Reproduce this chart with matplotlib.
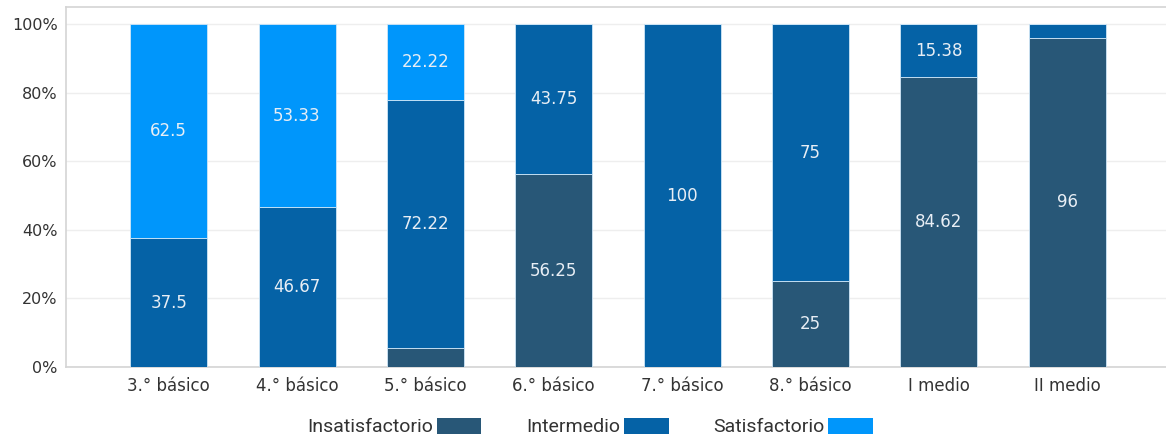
import matplotlib
matplotlib.use("Agg")
import matplotlib.pyplot as plt
import numpy as np

categories = ["3.° básico", "4.° básico", "5.° básico", "6.° básico",
              "7.° básico", "8.° básico", "I medio", "II medio"]
insatisfactorio = [0, 0, 5.56, 56.25, 0, 25, 84.62, 96]
intermedio = [37.5, 46.67, 72.22, 43.75, 100, 75, 15.38, 4]
satisfactorio = [62.5, 53.33, 22.22, 0, 0, 0, 0, 0]
series_names = ["Insatisfactorio", "Intermedio", "Satisfactorio"]
colors = ["#285777", "#0562a6", "#0096fb"]

fig = plt.figure(figsize=(11.66, 4.41), dpi=100)
ax = fig.add_axes([66/1166, 1-367/441, 1-66/1166, (367-7)/441])

x = np.arange(len(categories))
bottom = np.zeros(len(categories))
for name, vals, c in zip(series_names, [insatisfactorio, intermedio, satisfactorio], colors):
    vals = np.array(vals, dtype=float)
    ax.bar(x, vals, 0.6, bottom=bottom, color=c, edgecolor="#cfe6f7",
           linewidth=0.6, label=name, zorder=3)
    for xi, v, b in zip(x, vals, bottom):
        if v >= 10:
            ax.text(xi, b + v/2, f"{v:g}", ha="center", va="center",
                    color="#e8eef5", fontsize=12, zorder=4)
    bottom += vals

ax.set_xlim(-0.8, 7.77)
ax.set_ylim(0, 105)
ax.set_yticks([0, 20, 40, 60, 80, 100])
ax.set_yticklabels([f"{v}%" for v in [0, 20, 40, 60, 80, 100]], fontsize=11.5, color="#333333")
ax.set_xticks(x)
ax.set_xticklabels(categories, fontsize=12, color="#333333")
ax.tick_params(length=0, pad=7)
ax.tick_params(axis="y", pad=6)
ax.grid(axis="y", color="#eeeeee", linewidth=1, zorder=0)
for s in ["top", "left", "bottom"]:
    ax.spines[s].set_color("#d4d4d4")
    ax.spines[s].set_linewidth(1.2)
ax.spines["right"].set_visible(False)

leg = fig.legend(loc="center", bbox_to_anchor=(590/1166, 1-427/441), ncol=3,
                 frameon=False, markerfirst=False, handlelength=2.3,
                 handleheight=0.9, handletextpad=0.2, columnspacing=2.3,
                 prop={"family": "Roboto", "size": 14})
for t in leg.get_texts():
    t.set_color("#333333")
for h in leg.legend_handles:
    h.set_edgecolor("none")

fig.savefig("out.png", dpi=100)
